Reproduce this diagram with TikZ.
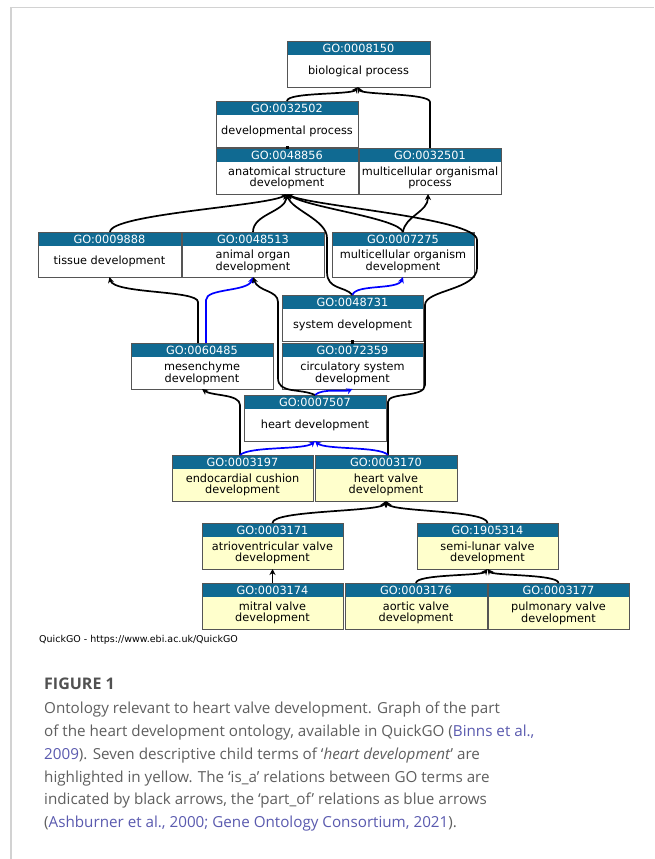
\documentclass[tikz,border=0pt]{standalone}
\usepackage{fontspec}
\usetikzlibrary{arrows.meta,calc}
\newfontfamily\djv{DejaVu Sans}
\newfontfamily\capf{Open Sans}
\definecolor{hdr}{RGB}{16,106,146}
\definecolor{yel}{RGB}{255,255,204}
\definecolor{bord}{RGB}{85,85,85}
\definecolor{captxt}{RGB}{95,95,95}
\definecolor{linkc}{RGB}{90,90,175}
\definecolor{frm}{RGB}{210,210,210}
\definecolor{blueline}{RGB}{0,0,255}
\tikzset{
  termbox/.style={inner sep=0pt, outer sep=0pt, draw=none},
  hdrtext/.style={text=white, inner sep=0pt, font=\djv\fontsize{11.3}{10.8}\selectfont},
  bodytext/.style={text=black, inner sep=0pt, align=center, font=\djv\fontsize{11.3}{10.8}\selectfont},
  isa/.style={draw=black, line width=1.7pt, -{Stealth[length=6pt,width=6pt]}},
  pof/.style={draw=blueline, line width=1.7pt, -{Stealth[length=6pt,width=6pt]}},
  capline/.style={inner sep=0pt, anchor=base west, text=captxt, font=\capf\fontsize{15.2}{17}\selectfont},
}
\newcommand\goterm[8]{%
  \node[termbox, fill=#8, minimum width={#4-#2}, minimum height={#5-#3}, anchor=north west] (#1) at (#2,#3) {};
  \fill[hdr] (#1.north west) rectangle ([yshift=-14pt]#1.north east);
  \node[hdrtext] (#1-id) at ([yshift=-7pt]#1.north) {#6};
  \node[bodytext] (#1-txt) at ($(#1.south)!0.5!([yshift=-14pt]#1.north)$) {#7};
  \draw[bord, line width=0.9pt] (#1.north west) rectangle (#1.south east);
}
\begin{document}
\begin{tikzpicture}[x=1pt,y=-1pt]
\useasboundingbox (0,0) rectangle (654,859);
\fill[white] (0,0) rectangle (654,859);
\draw[frm, line width=1.5pt] (11,859) -- (11,7.5) -- (654,7.5);

% terms
\goterm{bp}{287}{41}{430}{87}{GO:0008150}{biological process}{white}
\goterm{dp}{216}{101}{358}{147}{GO:0032502}{developmental process}{white}
\goterm{asd}{216}{148}{358}{194}{GO:0048856}{anatomical structure\\development}{white}
\goterm{mop}{359}{148}{501}{194}{GO:0032501}{multicellular organismal\\process}{white}
\goterm{td}{38}{232}{181}{277}{GO:0009888}{tissue development}{white}
\goterm{aod}{182}{232}{324}{277}{GO:0048513}{animal organ\\development}{white}
\goterm{mod}{332}{232}{474}{277}{GO:0007275}{multicellular organism\\development}{white}
\goterm{sd}{282}{295}{423}{341}{GO:0048731}{system development}{white}
\goterm{mes}{131}{343}{273}{389}{GO:0060485}{mesenchyme\\development}{white}
\goterm{csd}{282}{343}{423}{389}{GO:0072359}{circulatory system\\development}{white}
\goterm{hd}{244}{395}{386}{441}{GO:0007507}{heart development}{white}
\goterm{ecd}{172}{455}{313}{501}{GO:0003197}{endocardial cushion\\development}{yel}
\goterm{hvd}{315}{455}{457}{501}{GO:0003170}{heart valve\\development}{yel}
\goterm{avd}{202}{523}{343}{569}{GO:0003171}{atrioventricular valve\\development}{yel}
\goterm{slv}{417}{523}{558}{569}{GO:1905314}{semi-lunar valve\\development}{yel}
\goterm{mvd}{202}{583}{343}{629}{GO:0003174}{mitral valve\\development}{yel}
\goterm{avv}{345}{583}{487}{629}{GO:0003176}{aortic valve\\development}{yel}
\goterm{pvd}{488}{583}{629}{629}{GO:0003177}{pulmonary valve\\development}{yel}

% is_a and part_of relations
\draw[isa] ([xshift=71pt]dp.north west) .. controls (287,92) and (352,95) .. ([xshift=71pt]bp.south west);
\draw[isa] (mop.north) -- (430,102) .. controls (430,93) and (362,95) .. ([xshift=71pt]bp.south west);
\draw[line width=3pt] ([xshift=71pt,yshift=-1pt]asd.north west) -- ([xshift=71pt,yshift=1pt]dp.south west);
\draw[isa] ([xshift=72pt]td.north west) .. controls (110,214) and (268,206) .. ([xshift=71pt]asd.south west);
\draw[isa] (aod.north) .. controls (253,214) and (285,212) .. ([xshift=71pt]asd.south west);
\draw[isa] (sd.north) .. controls (345,286) and (327,290) .. (327,272) -- (327,238) .. controls (327,220) and (292,210) .. ([xshift=71pt]asd.south west);
\draw[isa] (mod.north) .. controls (398,218) and (310,208) .. ([xshift=71pt]asd.south west);
\draw[isa] (mod.north) .. controls (405,216) and (428,212) .. ([xshift=69pt]mop.south west);
\draw[isa] ([xshift=2pt]hvd.north) -- (388,402) .. controls (388,392) and (425,398) .. (425,385) -- (425,305) .. controls (425,290) and (477,290) .. (477,268) -- (477,240) .. controls (477,218) and (310,206) .. ([xshift=71pt]asd.south west);
\draw[pof] (sd.north) .. controls (355,284) and (398,290) .. (mod.south);
\draw[isa] ([xshift=67pt]mes.north west) -- (198,302) .. controls (198,290) and (114,294) .. (td.south);
\draw[pof] ([xshift=75pt]mes.north west) -- (206,300) .. controls (206,288) and (248,292) .. (aod.south);
\draw[isa] (hd.north) .. controls (300,388) and (278,394) .. (278,378) -- (278,302) .. controls (278,290) and (258,292) .. (aod.south);
\draw[isa] ([xshift=68pt]ecd.north west) -- (240,405) .. controls (240,394) and (212,396) .. (mes.south);
\draw[pof] (hd.north) .. controls (322,388) and (345,392) .. (csd.south);
\draw[line width=3pt] ([yshift=-1pt]csd.north) -- ([yshift=1pt]sd.south);
\draw[pof] ([xshift=68pt]ecd.north west) .. controls (250,446) and (305,450) .. (hd.south);
\draw[pof] ([xshift=2pt]hvd.north) .. controls (380,446) and (325,450) .. (hd.south);
\draw[isa] (avd.north) .. controls (272,510) and (380,512) .. (hvd.south);
\draw[isa] (slv.north) .. controls (487,510) and (392,512) .. (hvd.south);
\draw[isa] (mvd.north) -- (avd.south);
\draw[isa] (avv.north) .. controls (416,574) and (482,576) .. (slv.south);
\draw[isa] (pvd.north) .. controls (558,574) and (493,576) .. (slv.south);

% source line
\node[inner sep=0pt, anchor=west, font=\djv\fontsize{9.5}{11}\selectfont] (src) at (39,640) {QuickGO - https://www.ebi.ac.uk/QuickGO};

% caption
\node[capline, font=\capf\bfseries\fontsize{16}{18}\selectfont, text=captxt!85!black] (fig) at (44,689) {FIGURE 1};
\node[capline] (c1) at (44,713) {Ontology relevant to heart valve development. Graph of the part};
\node[capline] (c2) at (44,736) {of the heart development ontology, available in QuickGO (\textcolor{linkc}{Binns et al.,}};
\node[capline] (c3) at (44,759) {\textcolor{linkc}{2009}). Seven descriptive child terms of ‘\textit{heart development}’ are};
\node[capline] (c4) at (44,782) {highlighted in yellow. The ‘is\_a’ relations between GO terms are};
\node[capline] (c5) at (44,804) {indicated by black arrows, the ‘part\_of’ relations as blue arrows};
\node[capline] (c6) at (44,827) {(\textcolor{linkc}{Ashburner et al., 2000; Gene Ontology Consortium, 2021}).};
\end{tikzpicture}
\end{document}
